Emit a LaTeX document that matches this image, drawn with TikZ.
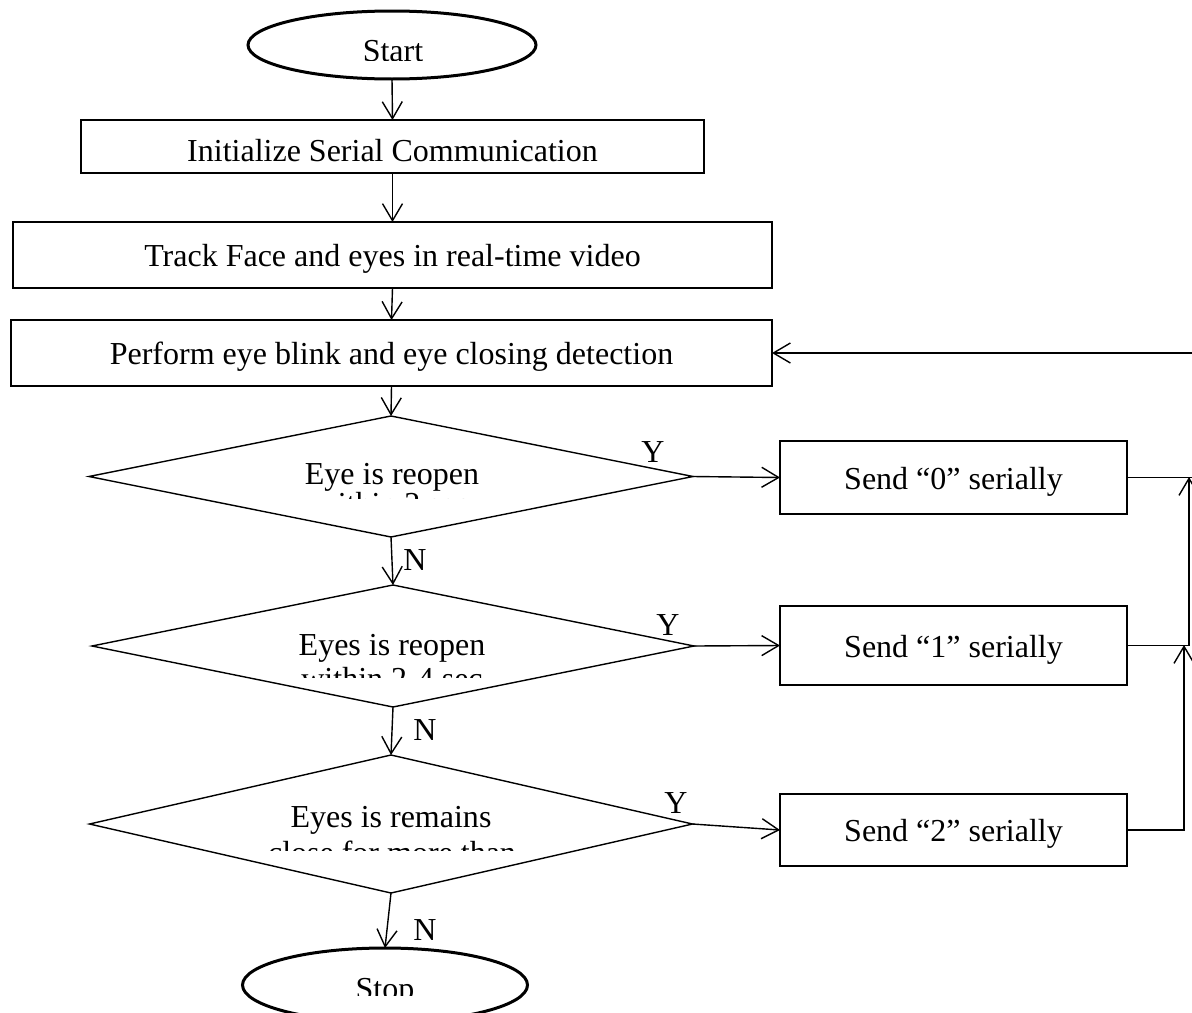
\documentclass[tikz,border=0pt]{standalone}
\usepackage{fontspec}
\setmainfont{Liberation Serif}
\usetikzlibrary{shapes.geometric, arrows.meta, positioning, calc}

\tikzset{
  stepbox/.style={draw, line width=0.8pt, inner sep=0pt, outer sep=0pt, text height=11.5pt, text depth=0pt, font=\fontsize{16}{19}\selectfont},
  decision/.style={draw, diamond, line width=0.7pt, inner sep=0pt, outer sep=0pt},
  terminal/.style={draw, ellipse, line width=1.5pt, inner sep=0pt, outer sep=0pt},
  flow/.style={line width=0.7pt, -{Straight Barb[length=8.5pt,width=10pt]}},
  lbl/.style={font=\fontsize{16}{19}\selectfont, inner sep=0pt},
}

\begin{document}
\begin{tikzpicture}[x=0.5pt, y=-0.5pt]
  \useasboundingbox (0,0) rectangle (1192,1012);
  \clip (0,0) rectangle (1192,1012);

  % Start / stop
  \node[terminal, minimum width=144pt, minimum height=34pt] (start) at (392,45) {};
  \node[terminal, minimum width=142.5pt, minimum height=37pt] (stop) at (385,985) {};
  \begin{scope}
    \clip (250,20) rectangle (535,60);
    \node[lbl, anchor=base] (tstart) at (393,61) {Start};
  \end{scope}
  \begin{scope}
    \clip (250,960) rectangle (520,995);
    \node[lbl, anchor=base] (tstop) at (385,999) {Stop};
  \end{scope}

  % Main steps
  \node[stepbox, text height=15pt, minimum width=311.5pt, minimum height=26.5pt] (init) at (392.5,146.5) {Initialize Serial Communication};
  \node[stepbox, minimum width=379.5pt, minimum height=33pt] (track) at (392.5,255) {Track Face and eyes in real-time video};
  \node[stepbox, minimum width=380.5pt, minimum height=33pt] (perform) at (391.5,353) {Perform eye blink and eye closing detection};

  % Decisions
  \node[decision, minimum width=302pt, minimum height=60.5pt] (d1) at (391,476.5) {};
  \node[decision, minimum width=301pt, minimum height=61pt] (d2) at (393,646) {};
  \node[decision, minimum width=301.5pt, minimum height=69pt] (d3) at (391,824) {};

  \begin{scope}
    \clip (110,450) rectangle (680,498);
    \node[lbl, anchor=base] (q1a) at (392,484) {Eye is reopen};
    \node[lbl, anchor=base] (q1b) at (392,514) {within 2 sec};
  \end{scope}
  \begin{scope}
    \clip (110,620) rectangle (680,677);
    \node[lbl, anchor=base] (q2a) at (392,655) {Eyes is reopen};
    \node[lbl, anchor=base] (q2b) at (392,689) {within 2-4 sec};
  \end{scope}
  \begin{scope}
    \clip (110,790) rectangle (680,850);
    \node[lbl, anchor=base] (q3a) at (391,827) {Eyes is remains};
    \node[lbl, anchor=base] (q3b) at (392,863) {close for more than};
  \end{scope}

  % Outputs
  \node[stepbox, minimum width=173.5pt, minimum height=36.5pt] (s0) at (953.5,477.5) {Send ``0'' serially};
  \node[stepbox, minimum width=173.5pt, minimum height=39.5pt] (s1) at (953.5,645.5) {Send ``1'' serially};
  \node[stepbox, minimum width=173.5pt, minimum height=36pt] (s2) at (953.5,830) {Send ``2'' serially};

  % Flow
  \draw[flow] (start.south) -- (init.north);
  \draw[flow] (init.south) -- (track.north);
  \draw[flow] (track.south) -- (perform.north);
  \draw[flow] (perform.south) -- (d1.north);
  \draw[flow] (d1.south) -- (d2.north);
  \draw[flow] (d2.south) -- (d3.north);
  \draw[flow] (d3.south) -- (stop.north);
  \draw[flow] (d1.east) -- (s0.west);
  \draw[flow] (d2.east) -- (s1.west);
  \draw[flow] (d3.east) -- (s2.west);

  \node[lbl] (n1) at (415,560) {N};
  \node[lbl] (n2) at (425,730) {N};
  \node[lbl] (n3) at (425,930) {N};
  \node[lbl] (y1) at (653,452) {Y};
  \node[lbl] (y2) at (668,625) {Y};
  \node[lbl] (y3) at (676,803) {Y};

  % Back to detection
  \coordinate (j1) at (1184,645);
  \coordinate (j0) at (1189,477);
  \coordinate (r0) at (1194,353);
  \draw[flow] (s2.east) -| (j1);
  \draw[flow] (s1.east) -| (j0);
  \draw[line width=0.7pt] (s0.east) -| (r0);
  \draw[flow] (r0) -- (perform.east);
\end{tikzpicture}
\end{document}
